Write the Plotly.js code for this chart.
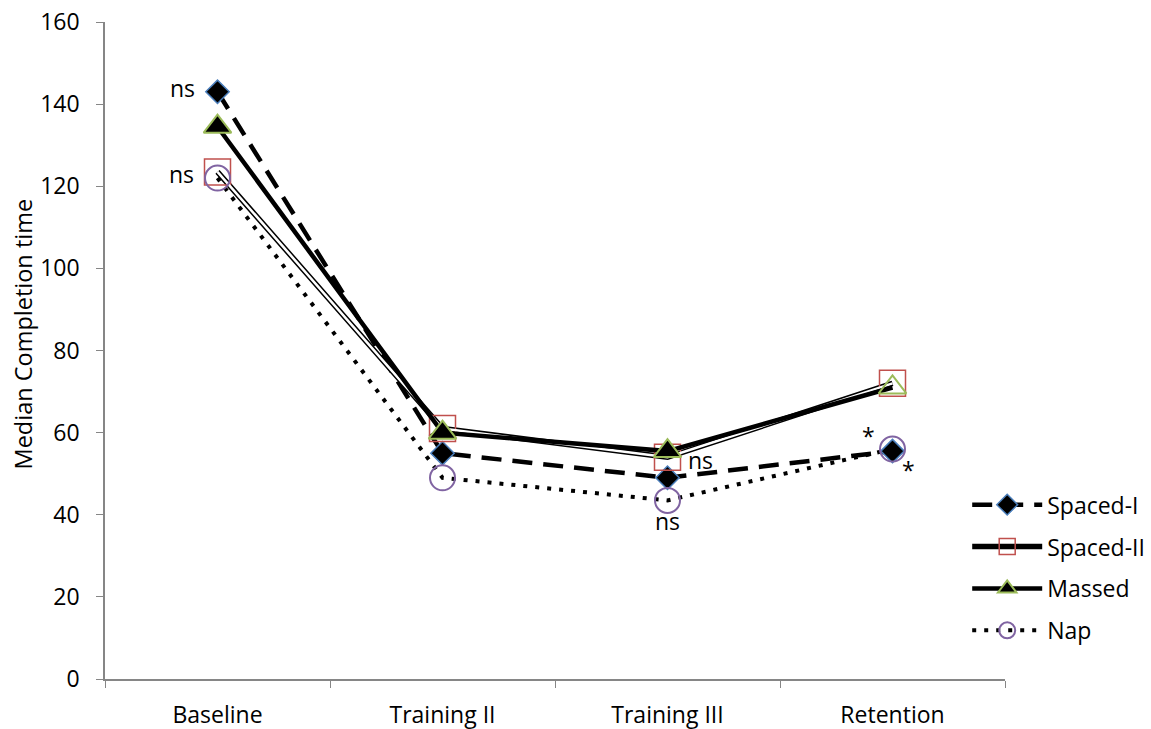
<!DOCTYPE html>
<html>
<head>
<meta charset="utf-8">
<script src="https://cdn.plot.ly/plotly-3.0.1.min.js"></script>
<style>html,body{margin:0;padding:0;background:#fff;}#chart{width:1151px;height:729px;}</style>
</head>
<body>
<div id="chart"></div>
<script>
var categories = ["Baseline", "Training II", "Training III", "Retention"];
var spacedI = [143, 55, 49, 55.5];
var spacedII = [123.5, 61, 54, 72];
var massed = [134.5, 60, 55.5, 71];
var nap = [122, 49, 43.5, 56];
var yTicks = [0, 20, 40, 60, 80, 100, 120, 140, 160];

var FONT = "Open Sans, Liberation Sans, sans-serif";
var FS = 23;

var traces = [
  {
    x: categories, y: spacedI, name: "Spaced-I", type: "scatter", mode: "lines+markers",
    legendgroup: "a", legendrank: 1,
    line: {color: "#000", width: 4.5, dash: "20px,11px"},
    marker: {symbol: "diamond", size: 18, color: "#000", line: {color: "#4a7ebb", width: 1.5}}
  },
  {
    x: categories, y: spacedII, name: "Spaced-II", type: "scatter", mode: "lines+markers",
    legendgroup: "b", legendrank: 2,
    line: {color: "#000", width: 5.5},
    marker: {symbol: "square-open", size: 26, color: "#c0504d", line: {width: 1.5}}
  },
  {
    x: categories, y: spacedII, name: "Spaced-II", type: "scatter", mode: "lines",
    legendgroup: "b", showlegend: false,
    line: {color: "#fff", width: 2.5}
  },
  {
    x: categories, y: massed, name: "Massed", type: "scatter", mode: "lines+markers",
    legendgroup: "c", legendrank: 3,
    line: {color: "#000", width: 4.5},
    marker: {symbol: "triangle-up", size: 24, color: ["#000", "#000", "#000", "rgba(0,0,0,0)"], line: {color: "#9bbb59", width: 2}}
  },
  {
    x: categories, y: nap, name: "Nap", type: "scatter", mode: "lines+markers",
    legendgroup: "d", legendrank: 4,
    line: {color: "#000", width: 4, dash: "4px,8px"},
    marker: {symbol: "circle-open", size: 25, color: "#8064a2", line: {width: 2}}
  }
];

var annots = [
  {x: 0, y: 144, text: "ns", xshift: -35},
  {x: 0, y: 123, text: "ns", xshift: -36},
  {x: 2, y: 53.3, text: "ns", xshift: 33},
  {x: 2, y: 38.5, text: "ns", xshift: 0},
  {x: 3, y: 59.2, text: "*", xshift: -24},
  {x: 3, y: 51, text: "*", xshift: 16}
].map(function(a){
  return {x: a.x, y: a.y, xref: "x", yref: "y", text: a.text, showarrow: false,
          xshift: a.xshift, font: {family: FONT, size: FS, color: "#000"}};
});
annots.push({
  xref: "paper", yref: "paper", x: 0, y: 0.5, xshift: -83, yshift: 16,
  xanchor: "center", yanchor: "middle",
  text: "Median Completion time", textangle: -90, showarrow: false,
  font: {family: FONT, size: 23.5, color: "#000"}
});

var layout = {
  width: 1151, height: 729,
  margin: {l: 105, r: 146, t: 22, b: 50, pad: 0, autoexpand: false},
  paper_bgcolor: "#fff", plot_bgcolor: "#fff",
  font: {family: FONT, size: FS, color: "#000"},
  showlegend: true,
  legend: {x: 0.958, y: 0.298, xanchor: "left", yanchor: "top", traceorder: "grouped",
           tracegroupgap: 9, itemwidth: 70, font: {family: FONT, size: FS, color: "#000"},
           bgcolor: "rgba(0,0,0,0)"},
  xaxis: {
    type: "category", range: [-0.5, 3.5], tickson: "boundaries", ticks: "outside", ticklen: 7,
    tickcolor: "#868686", showline: true, linecolor: "#868686", linewidth: 1.5,
    showgrid: false, zeroline: false, tickfont: {family: FONT, size: FS}, automargin: false,
    ticklabelstandoff: 15
  },
  yaxis: {
    range: [0, 160], tickvals: yTicks, ticktext: yTicks.map(String), ticks: "outside", ticklen: 7,
    tickcolor: "#868686", showline: true, linecolor: "#868686", linewidth: 1.5,
    showgrid: false, zeroline: false, tickfont: {family: FONT, size: FS},
    automargin: false, ticklabelstandoff: 12
  },
  annotations: annots
};

Plotly.newPlot("chart", traces, layout, {displayModeBar: false, responsive: false});
</script>
</body>
</html>
